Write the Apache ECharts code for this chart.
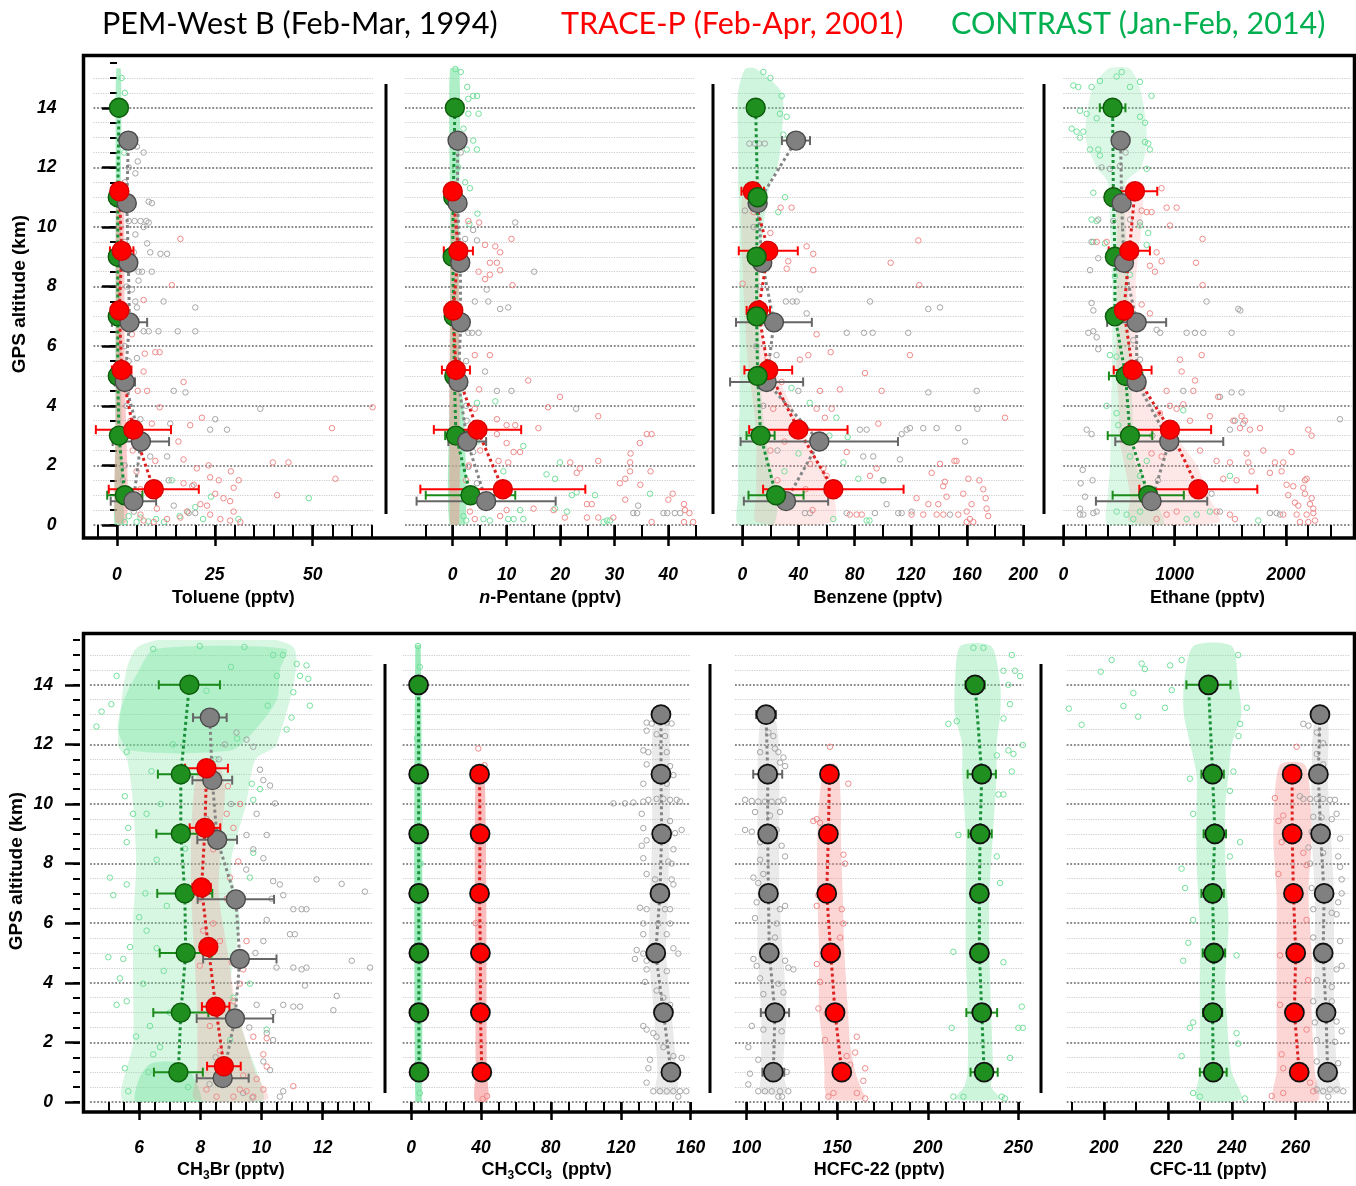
<!DOCTYPE html>
<html><head><meta charset="utf-8">
<script src="https://cdn.jsdelivr.net/npm/echarts@6/dist/echarts.min.js"></script>
<style>html,body{margin:0;padding:0;background:#fff}#c{width:1356px;height:1186px}</style>
</head><body><div id="c"></div>
<script>
// ================= DATA =================
const altG = [1,3,5,7,9,11,14];
const altR = [1.2,3.2,5.2,7.2,9.2,11.2];
const altK = [0.8,2.8,4.8,6.8,8.8,10.8,12.9];
const altR2 = [1,3,5,7,9,11];
const altK2 = [1,3,5,7,9,11,13];
const yMajor = [0,2,4,6,8,10,12,14];

// tick values
const tolMinor = [-5,0,5,10,15,20,25,30,35,40,45,50,55,60,65], tolMajor = [0,25,50];
const penMinor = [-5,0,5,10,15,20,25,30,35,40,45], penMajor = [0,10,20,30,40];
const benMinor = [0,20,40,60,80,100,120,140,160,180,200], benMajor = [0,40,80,120,160,200];
const ethMinor = [0,200,400,600,800,1000,1200,1400,1600,1800,2000,2200,2400], ethMajor = [0,1000,2000];
const brMinor = [5,5.5,6,6.5,7,7.5,8,8.5,9,9.5,10,10.5,11,11.5,12,12.5,13,13.5], brMajor = [6,8,10,12];
const mcMinor = [0,10,20,30,40,50,60,70,80,90,100,110,120,130,140,150,160], mcMajor = [0,40,80,120,160];
const hcMinor = [100,110,120,130,140,150,160,170,180,190,200,210,220,230,240,250], hcMajor = [100,150,200,250];
const cfMinor = [190,200,210,220,230,240,250,260,270], cfMajor = [200,220,240,260];

// ---- Toluene ----
const tolG = [2.0,0.5,0.2,0.2,0.2,0.2,0.5], tolGErr = [4.5,1.5,1.0,1.8,1.8,1.2,0.5];
const tolR = [9.4,4.2,1.2,0.6,1.2,0.6], tolRErr = [11.5,9.6,2.5,1.0,3.0,0.8];
const tolK = [4.2,6.1,2.0,3.2,2.9,2.5,2.9], tolKErr = [5.8,7.2,2.6,4.5,1.5,1.0,1.0];
const tolGEnv = [[0,-0.6,1.6],[1,-0.6,1.6],[3,-0.4,1.2],[11,-0.3,1.0],[15.3,-0.2,1.0]];
const tolREnv = [[0.1,-0.4,2.5],[3,-0.4,2.4],[5,-0.3,2.0],[11,-0.3,1.8],[11.5,0,1.2]];
const tolGPts = [[2,0.1],[5,0.1],[8,0.12],[10,0.2],[12,0.1],[24,0.95],[20,0.6],[18,0.45],[49,0.9],[3,0.3],[6,0.25],[1.5,13],[1.2,15],[2,14.5],[1.8,12.5],[14,1.5],[22,0.2],[31,0.2],[16,0.3]];
const tolRPts = [[16.2,9.6],[14.0,8.05],[6.8,7.55],[3.8,6.4],[7.1,5.75],[9.8,5.8],[10.9,5.8],[17.0,4.8],[6.8,5.15],[2.6,4.5],[5.3,4.5],[7.7,4.5],[10.9,3.95],[65.3,3.95],[54.9,3.25],[21.7,3.6],[18.7,3.35],[15.7,2.8],[8.9,3.4],[17.0,2.2],[9.8,2.15],[20.4,1.9],[23.4,2.0],[39.8,2.1],[43.8,2.1],[29.1,1.8],[55.8,1.55],[17.0,1.4],[19.6,1.35],[26.0,1.5],[23.8,1.6],[31.1,1.5],[29.8,1.25],[40.9,1.0],[25.1,1.05],[27.2,0.9],[28.9,0.8],[21.3,0.7],[23.0,0.65],[23.8,0.35],[26.4,0.2],[28.9,0.15],[31.5,0.1],[29.8,0.45],[16.2,0.25],[17.9,0.45],[10.2,0.55],[12.8,0.2],[6.8,0.15],[9.4,0.1],[6.0,0.35],[4,2.5],[5,1.8],[6,1.2],[3.5,3.5],[3,0.8],[4.5,0.6]];
const tolKPts = [[6.8,12.5],[5.1,12.7],[5.3,12.2],[4.7,11.8],[8.1,10.85],[8.9,10.8],[3,10.2],[4.5,10.2],[6,10.2],[7.5,10.2],[8.1,10.15],[6.8,10.0],[4.7,9.75],[7.7,9.45],[4.3,9.15],[8.5,9.15],[11.1,9.1],[12.8,9.1],[5.5,8.5],[6.4,8.5],[8.9,8.5],[5.5,8.2],[11.9,7.5],[20.0,7.3],[3.8,7.9],[4.7,7.5],[5.1,7.3],[6.8,6.5],[8.1,6.5],[10.6,6.5],[15.5,6.5],[20.0,6.5],[5.1,5.6],[17.5,4.45],[14.5,4.5],[36.6,3.9],[25.1,3.55],[23.8,3.2],[28.1,3.2],[13.6,3.4],[6.0,3.55],[8.5,2.3],[12.8,2.3],[19.2,1.3],[13.2,1.5],[14.5,0.65],[18.3,0.4],[20.0,0.4],[4.3,0.45],[2.5,13.0],[3,12.0],[2,11.5],[3.5,11],[2,9.5],[2.5,8],[3,7],[2,6],[3,5.5],[2.5,4],[3,3],[2,2],[1.5,1.5],[3,1]];

// ---- n-Pentane ----
const penG = [3.3,0.6,0.3,0.2,0.0,0.1,0.4], penGErr = [8.3,2.0,0.8,0.8,0.8,0.8,0.5];
const penR = [9.3,4.6,0.6,0.1,1.05,0.0], penRErr = [15.3,8.1,2.6,0.8,2.7,0.8];
const penK = [6.2,2.7,1.05,1.5,1.4,0.9,0.9], penKErr = [12.9,3.5,1.0,1.2,1.0,0.5,0.5];
const penGEnv = [[0,-0.6,2.3],[4,-0.6,2.0],[5,-0.5,1.2],[11,-0.5,1.2],[15.3,-0.5,1.2]];
const penREnv = [[0.05,-0.5,1.2],[11,-0.3,1.0],[11.4,0,0.8]];
const penGPts = [[2.7,14.7],[4.5,14.4],[3.8,14.4],[2.9,14.3],[2.9,13.8],[4.8,13.8],[2.0,13.3],[3.8,12.9],[4.5,12.6],[2.6,12.6],[2.3,11.5],[3.2,11.3],[4.6,10.45],[3.1,10.1],[4.5,4.1],[7.9,4.15],[4.5,2.8],[13.1,2.65],[9.4,1.8],[19.9,2.1],[17.4,1.7],[19.0,1.55],[22.1,1.0],[23.0,1.1],[26.4,1.0],[36.6,1.05],[12.5,0.5],[10.3,0.2],[11.3,0.2],[13.1,0.2],[5.7,0.2],[6.9,0.15],[28.6,0.15],[29.2,0.15],[28.0,0.1],[19.0,0.55],[21.2,0.45],[1.5,15.2],[0.5,15.3],[1.2,13.0],[1.0,12.0],[2.0,0.3],[2.5,0.15]];
const penRPts = [[2.9,10.2],[4.9,10.15],[10.9,9.6],[6.0,9.4],[7.9,9.35],[8.8,9.15],[6.9,8.8],[8.2,8.8],[8.8,8.55],[4.8,8.5],[6.9,8.4],[6.0,8.25],[11.1,8.05],[4.1,5.7],[6.9,5.7],[14.0,4.85],[4.9,4.55],[19.9,4.3],[17.7,3.95],[27.0,3.65],[4.1,3.9],[8.2,3.55],[10.0,3.35],[11.6,3.35],[15.9,3.25],[8.2,3.05],[10.0,2.75],[5.1,2.5],[11.3,2.45],[12.5,2.45],[8.5,2.15],[10.3,2.1],[21.8,2.1],[27.0,2.15],[32.9,2.1],[33.0,2.4],[34.7,2.75],[36.0,3.05],[36.9,3.05],[23.6,1.9],[23.0,1.75],[32.9,1.8],[36.7,1.8],[31.0,1.4],[32.0,1.55],[34.8,1.35],[32.0,0.85],[40.0,0.85],[40.8,1.05],[24.9,0.7],[25.8,0.7],[42.9,0.7],[43.1,0.5],[43.9,0.4],[44.6,0.1],[42.9,0.1],[36.9,0.1],[24.9,0.25],[27.0,0.25],[29.8,0.25],[20.8,0.25],[18.7,0.5],[15.0,0.55],[8.8,0.3],[10.0,0.5],[3.2,0.45],[4.1,0.2],[2.5,1.5],[3,2],[2,3]];
const penKPts = [[11.6,10.15],[3.8,9.9],[2.3,9.6],[4.5,9.55],[15.1,8.5],[6.3,7.9],[4.1,7.5],[6.6,7.5],[8.8,7.25],[10.3,7.3],[2.9,6.45],[4.8,6.45],[3.6,6.45],[6.0,5.15],[8.2,4.5],[10.9,4.5],[22.9,3.9],[2.6,3.5],[34.4,0.65],[33.5,0.4],[34.2,0.4],[39.1,0.4],[39.8,0.4],[41.2,0.4],[42.2,0.4],[2.9,1.95],[3.8,2.45],[4.5,1.4],[1.5,12.5],[1.5,11],[2,9],[2,7],[2.5,5.5],[2.5,4]];

// ---- Benzene ----
const benG = [24.0,13.0,10.9,10.2,10.2,10.9,9.5], benGErr = [19.6,10.0,3,3,3,3,2];
const benR = [64.8,39.9,18.5,11.4,18.5,7.4], benRErr = [50,35,17,8.3,21,8];
const benK = [31.1,54.8,17.3,22.5,14.2,10.9,38.2], benKErr = [30,56,26,27,4,3,10];
const benGEnv = [[0,-3,22],[1,-3,25],[2,-3,20],[4,-2,14],[8,-2,12],[10,-2,15],[11.5,-3,20],[12,-3,25],[13,-3,28],[14.5,-3,28],[15.3,2,10]];
const benREnv = [[0.1,10,65],[1,10,65],[2,10,55],[3,10,45],[4,8,35],[5,5,25],[6,3,15],[9,0,12],[11,0,8]];
const benGPts = [[31.6,13.7],[26.8,13.8],[28,14.4],[29.2,13.1],[30.4,11.0],[25.6,10.5],[48,4.1],[67,3.6],[72,2.1],[82.6,1.55],[100,1.5],[88.5,0.15],[90.5,0.15],[64.8,0.2],[62,3.0],[75,2.95],[20,15.0],[15,15.2],[35,4.6],[40,2.4],[30,1.8]];
const benRPts = [[27.3,10.65],[35.1,10.65],[125.3,9.55],[45.8,9.35],[50.5,9.1],[105.6,8.8],[32.7,8.85],[31.6,8.6],[50.5,8.55],[126,8.05],[0.2,8.1],[52.9,6.4],[119.3,5.7],[41,5.55],[47,5.7],[62.9,5.8],[87.3,5.1],[55.3,4.5],[69.5,4.55],[99.2,4.5],[52.9,3.9],[63.6,3.9],[58.8,3.6],[187,3.6],[96.8,3.4],[74.3,2.45],[134.8,1.75],[140.7,2.05],[152.5,2.15],[151,2.15],[160.9,1.55],[168.7,1.5],[144.2,1.45],[143,1.3],[124,0.9],[132.4,0.7],[139.5,0.7],[145.4,0.95],[157.3,1.05],[171.5,1.2],[173.2,0.9],[163.2,0.7],[173.9,0.55],[153.7,0.35],[159.7,0.45],[162,0.2],[164.4,0.1],[159.7,0.1],[175,0.3],[120.5,0.35],[128.8,0.35],[138.3,0.35],[143.1,0.35],[76.6,0.35],[81.4,0.35],[85,0.35],[60,1.65],[57.7,1.9],[48.2,2.05],[90.9,1.65],[95.6,1.9],[20,2.5],[25,1.5],[30,2.8],[35,0.8],[40,3.4],[45,1.2],[50,0.5],[22,3.9],[28,4.8],[18,5.6],[15,6.8],[12,8.6],[20,9.8],[8,10.5]];
const benKPts = [[41,7.9],[31,7.5],[35.8,7.5],[38.7,7.5],[90.9,7.5],[132.4,7.25],[140.7,7.3],[45.8,7.1],[74.3,6.45],[86.6,6.45],[92.8,6.45],[118.1,6.45],[24.4,5.7],[39.9,4.5],[132.4,4.45],[166.8,4.5],[167.3,3.9],[83.7,3.2],[88.5,3.2],[113.4,3.05],[117,3.2],[119.3,3.25],[128.8,3.25],[138.3,3.25],[153.7,3.25],[158.5,2.8],[86.1,2.3],[93.2,2.3],[112.2,2.2],[100.4,1.5],[102.7,0.7],[74.3,0.4],[94.4,0.4],[111,0.4],[113.4,0.4],[120.5,0.45],[147.8,0.35],[44.6,0.4],[48.2,0.4],[1.9,10.55],[5,12.8],[9,12.8],[12,12.8],[16,12.8],[8,10],[12,8],[10,6],[15,4],[25,2.5],[30,1]];

// ---- Ethane ----
const ethG = [763,599,560,464,464,450,443], ethGErr = [320,200,150,40,40,50,115];
const ethR = [1213,958,623,545,593,644], ethRErr = [530,370,170,60,185,200];
const ethK = [793,952,659,659,545,524,515], ethKErr = [500,485,60,265,50,40,40];
const ethGEnv = [[0,400,900],[1,400,800],[2,420,650],[4,430,620],[6,440,600],[8,440,580],[10,420,560],[11.5,400,560],[12,300,700],[13,200,750],[14.5,250,700],[15.3,400,600]];
const ethREnv = [[0.1,600,1400],[1,600,1300],[2,550,1200],[3,500,1000],[4,500,800],[5,480,700],[8,480,650],[10,480,700],[11.3,500,700]];
const ethGPts = [[90,14.75],[135,14.7],[254,14.7],[329,14.9],[479,15.05],[524,15.2],[599,14.7],[689,14.87],[793,14.4],[150,13.9],[210,13.8],[300,13.65],[689,13.7],[734,13.5],[75,13.3],[120,13.2],[180,13.2],[734,12.85],[763,12.8],[778,12.6],[150,13.0],[240,12.6],[314,12.6],[329,12.4],[270,11.15],[749,11.95],[254,10.25],[300,10.2],[689,10.05],[763,9.8],[270,9.5],[374,9.45],[749,9.4],[464,8.35],[599,8.4],[419,5.7],[479,5.65],[389,4.0],[479,3.75],[494,3.35],[599,2.3],[749,2.15],[689,1.65],[1078,3.85],[1497,1.65],[1751,0.15],[1317,0.45],[1198,0.35],[1108,0.2],[479,0.45],[569,0.35],[629,0.2],[689,0.45]];
const ethRPts = [[883,11.3],[928,10.65],[1018,10.65],[704,10.55],[749,10.5],[793,10.5],[958,10.05],[1251,9.6],[300,9.5],[389,9.5],[838,9.15],[883,8.85],[778,8.7],[823,8.5],[1192,8.8],[1251,8.05],[704,7.4],[778,7.1],[1048,5.55],[1243,5.7],[928,4.5],[1168,4.5],[1063,5.15],[1183,4.85],[1392,4.3],[958,4.0],[1018,3.9],[1078,4.05],[868,3.75],[1138,3.5],[1317,3.65],[1602,3.65],[1632,3.5],[1527,3.5],[1587,3.25],[1677,3.2],[1767,3.25],[2201,3.2],[2231,3.0],[793,2.4],[883,2.3],[1228,2.5],[1647,2.4],[1797,2.5],[2051,2.45],[1377,2.15],[1497,2.1],[1662,2.1],[1901,2.1],[1976,2.1],[1692,1.8],[1856,1.75],[1961,1.8],[1437,1.55],[1557,1.5],[2006,1.35],[2066,1.3],[2171,1.5],[2186,1.55],[2021,1.0],[2171,1.05],[2156,1.25],[2231,0.9],[2081,0.75],[2111,0.65],[2216,0.7],[2246,0.55],[2246,0.4],[2186,0.35],[2096,0.35],[1976,0.35],[2261,0.15],[2201,0.1],[2126,0.1],[1542,0.2],[1497,0.35],[1377,0.45],[1018,0.45],[928,0.35],[838,0.2]];
const ethKPts = [[344,12.0],[419,11.95],[509,12.05],[314,10.25],[449,10.2],[599,10.25],[689,10.15],[254,9.5],[314,8.95],[240,8.55],[254,7.45],[270,7.2],[1287,7.5],[1572,7.25],[1590,7.2],[225,6.45],[270,6.5],[300,6.3],[1108,6.45],[1183,6.45],[1258,6.45],[1512,6.45],[838,6.55],[870,6.45],[314,5.9],[629,6.2],[689,5.55],[1078,4.5],[1407,4.3],[1512,4.45],[1602,4.45],[1961,3.9],[2485,3.55],[1497,3.2],[1542,3.5],[1617,3.4],[210,3.2],[254,3.05],[174,1.85],[156,1.4],[263,1.5],[195,0.95],[150,0.55],[150,0.35],[180,0.35],[270,0.4],[299,0.45],[1856,0.4],[1916,0.4],[1946,0.35],[1407,0.45],[1332,1.05],[560,12.5],[540,11],[520,9],[600,7],[700,5],[800,3],[850,1.5]];

// ---- CH3Br ----
const brG = [7.28,7.36,7.52,7.49,7.36,7.36,7.64], brGErr = [0.8,0.9,0.85,0.9,0.8,0.75,1.0];
const brR = [8.77,8.5,8.26,8.04,8.15,8.2], brRErr = [0.55,0.45,0.2,0.3,0.5,0.7];
const brK = [8.73,9.13,9.29,9.16,8.55,8.39,8.31], brKErr = [0.85,1.25,1.2,1.25,0.65,0.65,0.55];
const brGEnv = [[0,5.5,10],[2,5.8,9.5],[4,5.8,9],[6,5.8,9.3],[8,5.9,9.0],[10,5.8,9.5],[11.5,5.6,9.8],[12,5.3,10.5],[15.3,6,11]];
const brGEnvTop = [[11.8,5.7,9.0],[12.5,5.3,9.8],[13.5,5.5,10.5],[14.5,6.0,10.6],[15.2,6.5,10.8]];
const brGEnvLow = [[0,5.9,8.0],[0.8,6.0,7.8],[1.3,6.4,7.4]];
const brREnv = [[0.1,7.8,10.2],[1,7.9,9.8],[2,7.9,9.5],[3,7.9,9.2],[5,7.8,8.9],[7,7.7,8.6],[9,7.7,8.7],[10.5,7.8,8.8],[11.3,8.0,8.6]];
const brGPts = [[5.26,14.3],[5.09,13.35],[4.77,13.1],[4.6,12.6],[6.46,15.2],[7.98,15.3],[9.44,15.27],[10.38,15.0],[10.7,15.0],[11.15,14.7],[11.47,14.65],[11.26,14.3],[11.53,14.2],[11.04,13.75],[11.58,13.3],[10.98,12.9],[10.82,12.5],[5.59,11.75],[5.53,10.26],[5.8,9.67],[5.64,9.2],[5.59,8.72],[5.04,7.53],[5.15,6.94],[5.59,7.3],[9.62,7.53],[9.73,8.36],[4.99,4.86],[5.48,4.8],[5.37,4.15],[5.59,3.38],[5.26,3.26],[5.53,1.13],[5.64,0.36],[9.62,3.97],[10.17,2.43],[9.73,10.14],[9.95,10.5],[9.68,10.68],[6.24,5.75],[6.57,5.16],[6.13,3.97],[6.35,2.55],[6.68,1.84],[6.46,1.6],[6.9,6.58],[6.57,8.13],[6.24,9.67],[6.4,11.1],[9.08,3.5],[8.97,2.08],[5.9,2.2],[6.0,6.2],[6.8,4.4],[7.0,3.0],[6.2,7.0],[6.7,10.0],[7.1,12.0],[8.5,11.5],[9.2,12.2],[10.2,13.3],[10.5,14.3],[7.5,8.5],[6.3,1.0],[7.6,0.5],[5.7,5.2],[8.2,13.8],[9.0,14.6]];
const brRPts = [[8.86,9.67],[9.08,9.2],[8.42,8.48],[9.24,8.07],[8.97,7.53],[7.98,6.82],[8.09,5.75],[8.64,5.4],[9.02,4.69],[9.29,3.97],[9.08,3.38],[8.64,3.02],[9.73,2.19],[10.17,2.14],[10.06,1.6],[10.17,1.19],[9.4,0.89],[9.84,0.77],[10.06,0.42],[9.29,0.42],[9.08,0.18],[8.53,0.18],[8.2,0.42],[11.04,0.53],[9.73,0.18],[9.51,0.36],[8.86,0.65],[8.64,1.72],[8.31,2.55],[9.4,4.45],[7.98,4.57],[8.42,5.99],[8.86,6.82],[9.51,5.4],[9.3,10.0],[8.9,10.6]];
const brKPts = [[9.51,12.16],[9.18,12.4],[9.73,11.92],[9.95,11.15],[10.06,10.8],[10.28,10.62],[10.44,10.02],[9.84,9.67],[10.17,8.96],[9.51,8.96],[9.73,8.48],[10.06,8.18],[11.8,7.47],[12.62,7.32],[13.38,7.06],[10.38,7.41],[10.6,7.3],[10.71,6.94],[10.33,6.82],[11.04,6.47],[11.31,6.47],[11.47,6.47],[10.93,5.63],[11.09,5.63],[10.17,6.11],[10.06,5.4],[10.49,4.51],[11.04,4.51],[11.31,4.45],[11.47,4.51],[12.95,4.74],[13.55,4.51],[11.42,3.91],[12.46,3.56],[12.35,3.08],[10.71,3.26],[11.04,3.2],[11.26,3.2],[9.84,3.26],[10.38,3.02],[10.17,2.31],[10.38,2.08],[10.06,1.36],[10.28,1.07],[10.71,0.36],[10.6,0.18],[9.4,0.3],[9.7,0.15],[8.8,12.0],[8.6,11.5],[9.0,10.0],[8.2,9.5],[9.5,7.8],[9.8,5.0],[9.6,2.5],[8.5,1.5],[8.3,0.6]];

// ---- CH3CCl3 ----
const mcG = [4.6,4.5,4.5,4.4,4.4,4.4,4.3], mcGErr = [0,0,0,0,0,0,0];
const mcR = [40.5,39.7,39.7,39.2,39.5,39.2], mcRErr = [0,0,0,0,0,0];
const mcK = [148.7,144.4,140.0,142.4,143.4,143,143], mcKErr = [0,0,0,0,0,0,0];
const mcGEnv = [[0,2.5,6.2],[15.3,2.5,5.5]];
const mcREnv = [[0.05,36.5,44],[1,37,43.5],[11.3,37,42]];
const mcKEnv = [[0.3,140,152],[1,141,152],[3,139,149],[5,136,146],[7,137,147],[9,138,148],[11,138,148],[12.8,139,147]];
const mcGPts = [[4,15.3],[5,14.6],[3.5,12.2],[5.5,8],[3,3],[5,0.3]];
const mcRPts = [[38.5,11.86],[42,11.3],[43.5,0.2],[41,0.1],[37,6],[43,3]];
const mcKPts = [[134.8,12.73],[137.7,12.7],[142.4,12.73],[146.3,12.73],[149.1,12.7],[134.8,12.46],[140.5,12.34],[145.3,12.28],[132.9,11.8],[135.8,11.74],[146.3,11.74],[134.8,11.33],[148.2,11.27],[150.1,10.97],[132.9,10.68],[146.3,10.68],[115.8,10.02],[122.4,10.02],[127.2,10.05],[132.9,10.08],[135.8,10.14],[140.5,10.17],[144.4,10.17],[148.2,10.14],[152,10.14],[153.9,10.08],[132,9.67],[148.2,9.43],[132.9,9.19],[154.8,9.13],[151,9.02],[134.8,8.78],[132,8.6],[150.1,8.48],[132.9,8.18],[147.2,8.07],[149.1,8.0],[134.8,7.65],[139.6,7.47],[149.1,7.47],[150.1,7.3],[131,6.52],[134.8,6.47],[145.3,6.47],[148.2,6.47],[132.9,5.99],[141.5,5.99],[148.2,5.99],[132.9,5.63],[146.3,5.63],[129.1,5.1],[132.9,4.98],[150.1,5.16],[152.9,4.98],[128.1,4.8],[134.8,4.74],[134.8,4.45],[146.3,4.39],[133.9,4.03],[140.5,3.74],[144.4,3.5],[148.2,3.26],[132.9,2.55],[134.8,2.43],[138.6,2.31],[140.5,2.19],[144.4,1.84],[150.1,1.54],[154.8,1.48],[136.7,1.42],[135.8,1.13],[152,1.01],[134.8,0.65],[138.6,0.36],[142.4,0.36],[146.3,0.36],[150.1,0.36],[153.9,0.36],[157.5,0.36],[152.9,0.18]];

// ---- HCFC-22 ----
const hcG = [231.1,229.8,228.5,228.5,228.9,229.8,226.1], hcGErr = [7.5,8.5,0,0,6.4,7.8,5.3];
const hcR = [152.5,148.8,146.4,144.2,145.1,145.7], hcRErr = [0,0,0,0,0,0];
const hcK = [114.7,115.6,112.5,112,111.6,111.6,110.7], hcKErr = [6,7.8,0,0,4,8,5.5];
const hcGEnv = [[0.1,215,240],[0.5,220,235],[1,222,236],[3,222,235],[5,221,234],[7,221,234],[9,221,236],[11,219,238],[12,219,238],[13,215,240],[14,215,240],[15.3,218,235]];
const hcREnv = [[0.1,145,165],[0.5,143,163],[1,143,160],[2,142,157],[3,140,156],[5,140,154],[7,139,153],[9,139,152],[10,140,152],[11.3,143,150]];
const hcKEnv = [[0.3,108,122],[1,108,120],[3,108,122],[5,106,120],[7,106,118],[9,106,118],[11,106,118],[12.8,108,116]];
const hcGPts = [[225.2,15.24],[230.7,15.24],[246.4,15.0],[241.8,14.47],[248.2,14.47],[251,14.29],[244.5,14.0],[245.4,13.35],[241.8,12.87],[211.4,12.69],[216,12.78],[252.5,11.98],[244.5,11.8],[247.3,11.68],[246.4,11.09],[238.1,11.63],[239,10.32],[241.8,10.32],[216.9,8.96],[238.1,8.24],[239.9,7.35],[214.1,5.04],[241.8,4.69],[251.9,3.2],[213.2,2.49],[250,2.49],[252.5,2.49],[245.4,1.48],[214.1,0.18],[219.7,0.18],[240.8,0.18],[242.6,0.12]];
const hcRPts = [[146,11.92],[156.1,10.68],[138.7,9.49],[136.8,9.43],[140.5,9.37],[153.4,8.3],[154.3,8.0],[139.6,6.94],[138.7,6.58],[152.5,6.47],[153.4,5.99],[151.6,5.52],[138.7,4.63],[140.5,4.03],[144.2,2.97],[139.6,3.14],[160.8,2.19],[159.9,1.66],[165.4,1.13],[164.4,0.71],[165.4,0.12],[145.1,0.18],[147.9,0.3],[160.8,0.3],[157.1,1.25],[155.2,1.54],[143.3,2.08]];
const hcKPts = [[99.1,10.14],[102.8,10.1],[106.4,10.08],[110.1,10.08],[113.8,10.08],[117.5,10.08],[120.3,10.14],[104.6,9.73],[112.9,9.61],[118.4,9.73],[99.1,9.13],[102.8,9.07],[116.6,9.13],[107.4,8.72],[119.3,8.6],[121.2,8.24],[107.4,8.13],[109.2,7.65],[103.7,7.53],[106.4,7.35],[105.5,6.7],[118.4,6.47],[121.2,6.58],[104.6,6.17],[116.6,5.99],[115.6,5.52],[103.7,4.8],[121.2,4.74],[105.5,4.57],[125.8,4.45],[123,4.51],[107.4,4.15],[117.5,3.97],[109.2,3.62],[120.3,3.68],[102.8,2.55],[109.2,2.43],[119.3,2.37],[100.9,1.84],[106.4,1.42],[101.8,0.95],[122.1,1.01],[100.9,0.59],[106.4,0.36],[110.1,0.36],[113.8,0.36],[118.4,0.36],[123,0.36],[117.5,0.18],[119.5,0.18],[107.4,11.74],[115.6,11.86],[117.5,11.74],[118.4,11.39],[120.3,11.56],[112,12.4],[114.7,12.28],[121.2,11.27]];

// ---- CFC-11 ----
const cfG = [234.2,234.0,234.4,234.0,234.7,234.0,232.7], cfGErr = [4.2,3.0,3.5,3.5,3.5,3.5,6.9];
const cfR = [261.1,259.6,260.0,259.3,258.9,258.9], cfRErr = [0,0,0,0,0,0];
const cfK = [270.0,269.5,268.6,268.9,267.8,267.1,267.6], cfKErr = [0,0,0,0,0,0,0];
const cfGEnv = [[0.1,229,243],[1,230,240],[2,230,239],[4,230,238],[6,230,239],[8,229,238],[10,229,238],[11,229,239],[12,227,240],[13,225,243],[14,225,242],[15.3,228,240]];
const cfREnv = [[0.05,253,267],[1,254,266],[3,254,265],[5,254,265],[7,254,264],[9,253,265],[11.3,255,263]];
const cfKEnv = [[0.3,266,274],[1,267,273],[3,266,272],[5,266,272],[7,266,272],[9,265,271],[11,265,270],[12.8,266,270]];
const cfGPts = [[193,12.66],[199,14.44],[202.4,14.83],[206.1,13.29],[209.2,13.72],[210.7,12.93],[211.8,14.71],[212.8,14.53],[219.1,13.23],[220.7,14.65],[221.2,13.82],[224.3,14.83],[242,15.0],[244.7,13.23],[242.6,12.69],[242.1,12.28],[240.5,11.09],[226.9,10.85],[227.9,9.67],[239.4,10.44],[242.6,8.72],[224.3,7.83],[225.4,7.18],[239.4,8.24],[227.9,6.11],[226.4,5.34],[224.8,4.74],[241.5,4.92],[227.9,2.67],[226.9,2.49],[241.5,2.31],[242,1.96],[224.3,1.54],[244.1,0.12],[227.9,0.3],[230,0.18],[189,13.2]];
const cfRPts = [[260.3,11.92],[254.6,9.43],[256.1,9.61],[255.6,8.72],[262.4,8.36],[263.4,7.95],[254.6,7.65],[263.4,6.11],[255.1,4.92],[263.9,4.09],[255.1,3.26],[263.4,2.43],[255.6,1.6],[256.1,1.13],[264.5,0.65],[265.5,0.36],[256.1,0.3],[252.5,0.2],[253.5,10.2]];
const cfKPts = [[262.4,12.69],[264,12.63],[266.6,12.4],[268.6,12.04],[266.6,11.68],[268.6,11.33],[261.3,10.26],[262.4,10.17],[264.5,10.17],[266.6,10.17],[268.6,10.17],[270.7,10.14],[272.3,10.14],[265.5,9.57],[268.1,9.55],[271.3,9.49],[272.8,9.67],[265,9.07],[273.9,8.84],[264,8.54],[268.6,8.36],[273.3,8.24],[264.5,8.0],[273.9,7.89],[274.4,7.47],[265,7.18],[274.4,7.0],[273.3,6.7],[265.5,6.47],[271.3,6.35],[272.8,6.3],[265.5,5.52],[273.9,5.4],[266.6,4.8],[274.4,4.57],[272.8,4.45],[266.6,4.09],[271.3,3.86],[265.5,3.38],[271.3,3.38],[266,2.67],[274.4,2.37],[272.8,2.7],[266.6,2.08],[272.3,2.02],[266.6,1.36],[273.3,1.3],[268.6,0.89],[271.8,0.83],[266.6,0.42],[268.6,0.36],[270.7,0.42],[272.8,0.42],[274.9,0.36],[270.2,0.18]];

// ================= STYLE / LAYOUT =================
const FONT = '"Liberation Sans", Arial, sans-serif';
const COL = {
  G:{fill:'#1f8f1f', edge:'#0c5c0c', err:'#1a8a1a', line:'#1a9038', pt:'#74e09c', env:'110,225,155'},
  R:{fill:'#ff0000', edge:'#d40000', err:'#ff0000', line:'#dd2020', pt:'#f08a8a', env:'245,135,135'},
  K:{fill:'#808080', edge:'#4a4a4a', err:'#666666', line:'#858585', pt:'#a6a6a6', env:'170,170,170'}
};
const ROWS = [{top:63.1, axOff:13, tMinor:12, tMajor:21, lMargin:28, nGap:48},
              {top:640.1, axOff:10, tMinor:10, tMajor:18, lMargin:27, nGap:46}];
const GH = 461.9;

const PANELS = [
 {row:0,left:93.5,width:279.9,min:-6,max:65.5,minor:tolMinor,major:tolMajor,name:'Toluene (pptv)',ylab:true,
  env:[[tolGEnv,'G',0.55],[tolREnv,'R',0.45]], pts:{G:tolGPts,K:tolKPts,R:tolRPts}, ptOrder:['G','K','R'],
  mean:{G:[tolG,tolGErr,altG],K:[tolK,tolKErr,altK],R:[tolR,tolRErr,altR]}, order:['G','K','R'], black:false},
 {row:0,left:405,width:290.3,min:-8.85,max:45,minor:penMinor,major:penMajor,name:'{i|n}-Pentane (pptv)',
  env:[[penGEnv,'G',0.55],[penREnv,'R',0.45]], pts:{G:penGPts,K:penKPts,R:penRPts}, ptOrder:['G','K','R'],
  mean:{G:[penG,penGErr,altG],K:[penK,penKErr,altK],R:[penR,penRErr,altR]}, order:['G','K','R'], black:false},
 {row:0,left:732,width:292,min:-7.33,max:200.5,minor:benMinor,major:benMajor,name:'Benzene (pptv)',
  env:[[benGEnv,'G',0.32],[benREnv,'R',0.2]], pts:{G:benGPts,K:benKPts,R:benRPts}, ptOrder:['G','K','R'],
  mean:{G:[benG,benGErr,altG],K:[benK,benKErr,altK],R:[benR,benRErr,altR]}, order:['K','R','G'], black:false},
 {row:0,left:1063.3,width:288.3,min:0,max:2590,minor:ethMinor,major:ethMajor,name:'Ethane (pptv)',
  env:[[ethGEnv,'G',0.25],[ethREnv,'R',0.2]], pts:{G:ethGPts,K:ethKPts,R:ethRPts}, ptOrder:['G','K','R'],
  mean:{G:[ethG,ethGErr,altG],K:[ethK,ethKErr,altK],R:[ethR,ethRErr,altR]}, order:['G','K','R'], black:false},
 {row:1,left:90,width:281.6,min:4.39,max:13.6,minor:brMinor,major:brMajor,name:'CH{s|3}Br (pptv)',ylab:true,
  env:[[brGEnv,'G',0.28],[brGEnvTop,'G',0.35],[brGEnvLow,'G',0.4],[brREnv,'R',0.25]], pts:{G:brGPts,K:brKPts,R:brRPts}, ptOrder:['G','K','R'],
  mean:{G:[brG,brGErr,altG],K:[brK,brKErr,altK],R:[brR,brRErr,altR]}, order:['G','K','R'], black:false},
 {row:1,left:402.7,width:288,min:-4.75,max:160,minor:mcMinor,major:mcMajor,name:'CH{s|3}CCl{s|3}  (pptv)',
  env:[[mcGEnv,'G',0.7],[mcREnv,'R',0.55],[mcKEnv,'K',0.25]], pts:{G:mcGPts,K:mcKPts,R:mcRPts}, ptOrder:['G','K','R'],
  mean:{G:[mcG,mcGErr,altG],K:[mcK,mcKErr,altK2],R:[mcR,mcRErr,altR2]}, order:['G','R','K'], black:true},
 {row:1,left:735,width:288.4,min:93.54,max:252.8,minor:hcMinor,major:hcMajor,name:'HCFC-22 (pptv)',
  env:[[hcGEnv,'G',0.35],[hcREnv,'R',0.35],[hcKEnv,'K',0.25]], pts:{G:hcGPts,K:hcKPts,R:hcRPts}, ptOrder:['G','K','R'],
  mean:{G:[hcG,hcGErr,altG],K:[hcK,hcKErr,altK2],R:[hcR,hcRErr,altR2]}, order:['K','R','G'], black:true},
 {row:1,left:1066.7,width:283.3,min:188.33,max:277,minor:cfMinor,major:cfMajor,name:'CFC-11 (pptv)',
  env:[[cfGEnv,'G',0.35],[cfREnv,'R',0.35],[cfKEnv,'K',0.25]], pts:{G:cfGPts,K:cfKPts,R:cfRPts}, ptOrder:['G','K','R'],
  mean:{G:[cfG,cfGErr,altG],K:[cfK,cfKErr,altK2],R:[cfR,cfRErr,altR2]}, order:['G','R','K'], black:true}
];

// split-line colour cycles
const LIGHT = [];
for (let i = 0; i < 32; i++) LIGHT.push((i % 4 === 0 || i === 31) ? 'rgba(0,0,0,0)' : '#cdcdcd');
const DARK = ['#8a8a8a','#8a8a8a','#8a8a8a','#8a8a8a','#8a8a8a','#8a8a8a','#8a8a8a','#8a8a8a','rgba(0,0,0,0)'];

const grids = [], xAxes = [], yAxes = [], series = [];
const nameStyle = {fontFamily:FONT, fontSize:18, fontWeight:'bold', color:'#000', lineHeight:24,
  rich:{ i:{fontFamily:FONT, fontSize:18, fontWeight:'bold', fontStyle:'italic', color:'#000'},
         s:{fontFamily:FONT, fontSize:12, fontWeight:'bold', color:'#000', verticalAlign:'bottom', lineHeight:12} }};
const tickLabel = {fontFamily:FONT, fontSize:17.5, fontWeight:'bold', fontStyle:'italic', color:'#000',
  formatter: v => String(v)};

function errRender(col) {
  return function (params, api) {
    const x = api.value(0), y = api.value(1), e = api.value(2);
    if (!e) return null;
    const a = api.coord([x - e, y]), b = api.coord([x + e, y]);
    const st = {stroke: col, lineWidth: 2};
    return {type:'group', children:[
      {type:'line', shape:{x1:a[0], y1:a[1], x2:b[0], y2:b[1]}, style:st},
      {type:'line', shape:{x1:a[0], y1:a[1]-4.5, x2:a[0], y2:a[1]+4.5}, style:st},
      {type:'line', shape:{x1:b[0], y1:b[1]-4.5, x2:b[0], y2:b[1]+4.5}, style:st}
    ]};
  };
}

PANELS.forEach((p, i) => {
  const R = ROWS[p.row];
  grids.push({left:p.left, top:R.top, width:p.width, height:GH, show:false, containLabel:false, outerBoundsMode:'none'});
  xAxes.push({type:'value', gridIndex:i, min:p.min, max:p.max, position:'bottom', offset:R.axOff,
    axisLine:{show:false}, splitLine:{show:false},
    axisTick:{show:true, customValues:p.minor, length:R.tMinor, lineStyle:{color:'#000', width:2}},
    axisLabel:{show:true, customValues:p.major, margin:R.lMargin, ...tickLabel},
    name:p.name, nameLocation:'middle', nameGap:R.nGap, nameTextStyle:nameStyle});
  xAxes.push({type:'value', gridIndex:i, min:p.min, max:p.max, position:'bottom', offset:R.axOff,
    axisLine:{show:false}, splitLine:{show:false},
    axisTick:{show:true, customValues:p.major, length:R.tMajor, lineStyle:{color:'#000', width:2.5}},
    axisLabel:{show:false}});
  const yl = !!p.ylab;
  yAxes.push({type:'value', gridIndex:i, min:0, max:15.5, interval:0.5, position:'left', offset: yl ? 10 : 0,
    axisLine:{show:false},
    axisTick:{show:yl, length:7, lineStyle:{color:'#000', width:2}},
    axisLabel:{show:false},
    splitLine:{show:true, lineStyle:{type:'dotted', color:LIGHT, width:1.2}}});
  yAxes.push({type:'value', gridIndex:i, min:0, max:15.5, interval:2, position:'left', offset: yl ? 10 : 0,
    axisLine:{show:false},
    axisTick:{show:yl, customValues:yMajor, length:15, lineStyle:{color:'#000', width:2.5}},
    axisLabel:{show:yl, customValues:yMajor, margin:27, ...tickLabel},
    splitLine:{show:true, lineStyle:{type:'dotted', color:DARK, width:1.8}},
    name: yl ? 'GPS altitude (km)' : '', nameLocation:'middle', nameGap:54, nameRotate:90,
    nameTextStyle:{fontFamily:FONT, fontSize:19, fontWeight:'bold', color:'#000'}});

  const xi = 2*i, yi = 2*i;
  p.env.forEach(([env, key, alpha]) => {
    series.push({type:'custom', xAxisIndex:xi, yAxisIndex:yi, data:env, encode:{x:[1,2], y:0},
      clip:true, silent:true, z:1, animation:false,
      renderItem:(params, api) => {
        if (params.dataIndex !== 0) return null;
        const L = env.map(r => api.coord([r[1], r[0]]));
        const Rr = env.map(r => api.coord([r[2], r[0]])).reverse();
        return {type:'polygon', shape:{points:L.concat(Rr), smooth:0.25},
                style:{fill:'rgba(' + COL[key].env + ',' + alpha + ')'}};
      }});
  });
  p.ptOrder.forEach(k => {
    series.push({type:'scatter', xAxisIndex:xi, yAxisIndex:yi, data:p.pts[k], symbol:'circle', symbolSize:5.5,
      silent:true, z:2, animation:false,
      itemStyle:{color:'rgba(255,255,255,0)', borderColor:COL[k].pt, borderWidth:1, opacity:1}});
  });
  p.order.forEach(k => {
    const [vals, errs, alts] = p.mean[k];
    series.push({type:'line', xAxisIndex:xi, yAxisIndex:yi, data:vals.map((v,j) => [v, alts[j]]),
      symbol:'none', silent:true, z:3, animation:false,
      lineStyle:{color:COL[k].line, width:3, type:'dotted', opacity:1}});
  });
  p.order.forEach(k => {
    const [vals, errs, alts] = p.mean[k];
    series.push({type:'custom', xAxisIndex:xi, yAxisIndex:yi, data:vals.map((v,j) => [v, alts[j], errs[j]]),
      encode:{x:0, y:1}, silent:true, z:4, animation:false, renderItem:errRender(COL[k].err)});
    series.push({type:'scatter', xAxisIndex:xi, yAxisIndex:yi, data:vals.map((v,j) => [v, alts[j]]),
      symbol:'circle', symbolSize:19, silent:true, z:4, animation:false,
      itemStyle:{color:COL[k].fill, borderColor: p.black ? '#111' : COL[k].edge, borderWidth: p.black ? 1.8 : 1.4, opacity:1}});
  });
});

const HF = '30.5px Lato, "Open Sans", sans-serif';
const graphics = [
  {type:'rect', shape:{x:83.5, y:55.5, width:1271, height:482.5}, style:{fill:'none', stroke:'#000', lineWidth:3.5}, z:100, silent:true},
  {type:'rect', shape:{x:83.5, y:633.5, width:1271, height:478.5}, style:{fill:'none', stroke:'#000', lineWidth:3.5}, z:100, silent:true},
  {type:'line', shape:{x1:386, y1:84, x2:386, y2:514}, style:{stroke:'#000', lineWidth:3}, z:100, silent:true},
  {type:'line', shape:{x1:713, y1:84, x2:713, y2:514}, style:{stroke:'#000', lineWidth:3}, z:100, silent:true},
  {type:'line', shape:{x1:1044, y1:84, x2:1044, y2:514}, style:{stroke:'#000', lineWidth:3}, z:100, silent:true},
  {type:'line', shape:{x1:385, y1:664, x2:385, y2:1093}, style:{stroke:'#000', lineWidth:3}, z:100, silent:true},
  {type:'line', shape:{x1:710, y1:664, x2:710, y2:1093}, style:{stroke:'#000', lineWidth:3}, z:100, silent:true},
  {type:'line', shape:{x1:1041, y1:664, x2:1041, y2:1093}, style:{stroke:'#000', lineWidth:3}, z:100, silent:true},
  {type:'text', x:102, y:24, style:{text:'PEM-West B (Feb-Mar, 1994)', fill:'#000', font:HF, verticalAlign:'middle', textAlign:'left'}, silent:true},
  {type:'text', x:561, y:24, style:{text:'TRACE-P (Feb-Apr, 2001)', fill:'#ff0000', font:HF, verticalAlign:'middle', textAlign:'left'}, silent:true},
  {type:'text', x:951, y:24, style:{text:'CONTRAST (Jan-Feb, 2014)', fill:'#00b050', font:HF, verticalAlign:'middle', textAlign:'left'}, silent:true}
];

const chart = echarts.init(document.getElementById('c'), null, {renderer:'canvas'});
chart.setOption({
  backgroundColor:'#ffffff',
  animation:false,
  grid:grids, xAxis:xAxes, yAxis:yAxes, series:series, graphic:graphics
});
</script></body></html>
